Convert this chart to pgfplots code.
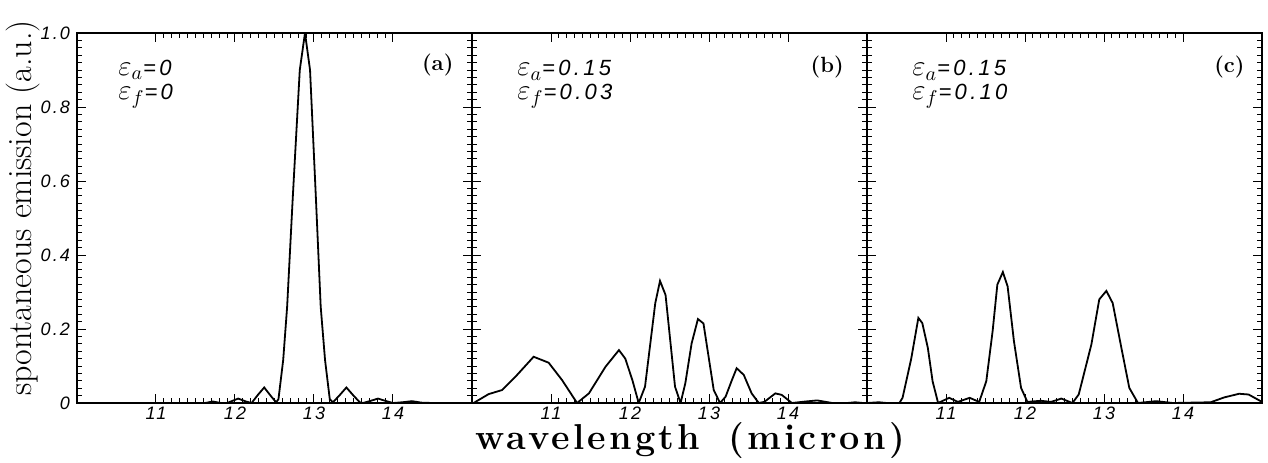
\documentclass[border=0pt]{standalone}
\usepackage{fontspec}
\usepackage{pgfplots}
\pgfplotsset{compat=1.18}
\newfontfamily\idlfont[LetterSpace=12]{Liberation Sans}
\newfontfamily\idlfontw[LetterSpace=15]{Liberation Sans}
\newfontfamily\xlabfont[LetterSpace=9]{Latin Modern Roman}
\newcommand\tickfont{\idlfont\itshape\fontsize{9}{10}\selectfont}
\newcommand\eps[2]{{\fontsize{14}{14}\selectfont\smash{$\varepsilon_{#1}$}}{\idlfontw\itshape\fontsize{11}{13}\selectfont=#2}}
\newcommand\plab[1]{{\bfseries\fontsize{11}{13}\selectfont(#1)}}

\pgfplotsset{panel/.style={
  scale only axis, width=197.5pt, height=185pt,
  xmin=10, xmax=15, ymin=0, ymax=1,
  xtick={11,12,13,14}, ytick={0,0.2,0.4,0.6,0.8,1.0},
  minor x tick num=9, minor y tick num=9,
  major tick length=4.5pt, minor tick length=2.5pt,
  tick style={black, line width=0.5pt},
  axis line style={line width=0.8pt},
  ticklabel style={font=\tickfont},
  xticklabel style={inner sep=0pt, yshift=-2pt},
  /pgf/number format/assume math mode=true,
  anchor=south west,
}}

\begin{document}
\begin{tikzpicture}
% ---------------- (a)
\begin{axis}[panel, at={(0pt,0pt)},
  yticklabels={0,0.2,0.4,0.6,0.8,1.0},
  ylabel={\fontsize{17}{20}\selectfont spontaneous emission (a.u.)},
  ylabel style={at={(axis description cs:-0.115,0.527)}, anchor=base},
]
\addplot[black, line width=0.9pt] coordinates {
(10.0,0) (11.5,0) (11.62,0) (11.72,0.004) (11.82,0) (11.9,0) (12.04,0.012) (12.14,0.004)
(12.21,0) (12.29,0.022) (12.37,0.042) (12.45,0.02) (12.52,0.002) (12.55,0.01) (12.61,0.116)
(12.66,0.26) (12.73,0.55) (12.82,0.9) (12.886,1.0) (12.95,0.9) (13.025,0.55) (13.085,0.26)
(13.14,0.116) (13.20,0.01) (13.24,0.002) (13.32,0.02) (13.41,0.042) (13.5,0.02) (13.58,0.002)
(13.62,0) (13.72,0.006) (13.81,0.012) (13.9,0.006) (14.0,0) (14.12,0.002) (14.24,0.005)
(14.36,0.001) (14.5,0) (15,0)
};
\node[anchor=base west, inner sep=0pt] at (axis description cs:0.104,0.886) {\eps{a}{0}};
\node[anchor=base west, inner sep=0pt] at (axis description cs:0.104,0.819) {\eps{f}{0}};
\node[anchor=base east, inner sep=0pt] at (axis description cs:0.954,0.9) {\plab{a}};
\end{axis}
% ---------------- (b)
\begin{axis}[panel, at={(197.5pt,0pt)}, yticklabels={},
  xlabel={\xlabfont\bfseries\fontsize{18}{21}\selectfont wavelength\hspace{14pt}(micron)},
  xlabel style={at={(axis description cs:0.552,-0.127)}, anchor=base, inner sep=0pt},
]
\addplot[black, line width=0.9pt] coordinates {
(10.02,0) (10.21,0.024) (10.38,0.035) (10.55,0.071) (10.78,0.125) (10.97,0.109) (11.14,0.062)
(11.33,0) (11.48,0.026) (11.69,0.098) (11.86,0.143) (11.94,0.12) (12.03,0.062) (12.11,0)
(12.19,0.044) (12.32,0.27) (12.38,0.33) (12.45,0.292) (12.57,0.044) (12.64,0) (12.70,0.053)
(12.78,0.161) (12.86,0.227) (12.93,0.215) (13.06,0.035) (13.14,0) (13.21,0.017) (13.29,0.062)
(13.35,0.094) (13.44,0.076) (13.54,0.026) (13.63,0) (13.70,0.003) (13.84,0.026) (13.92,0.022)
(14.05,0) (14.22,0.004) (14.37,0.007) (14.56,0) (14.75,0) (14.85,0.002) (14.95,0) (15,0)
};
\node[anchor=base west, inner sep=0pt] at (axis description cs:0.114,0.884) {\eps{a}{0.15}};
\node[anchor=base west, inner sep=0pt] at (axis description cs:0.114,0.819) {\eps{f}{0.03}};
\node[anchor=base east, inner sep=0pt] at (axis description cs:0.942,0.893) {\plab{b}};
\end{axis}
% ---------------- (c)
\begin{axis}[panel, at={(395pt,0pt)}, yticklabels={}]
\addplot[black, line width=0.9pt] coordinates {
(10.0,0) (10.15,0.002) (10.25,0) (10.41,0) (10.45,0.014) (10.56,0.12) (10.65,0.23) (10.70,0.216)
(10.77,0.149) (10.83,0.059) (10.90,0) (11.04,0.014) (11.15,0.003) (11.30,0.014) (11.42,0.003)
(11.51,0.059) (11.59,0.194) (11.65,0.32) (11.72,0.354) (11.78,0.315) (11.86,0.167) (11.95,0.041)
(12.03,0.003) (12.20,0.006) (12.33,0.003) (12.46,0.012) (12.60,0) (12.68,0.023) (12.84,0.158)
(12.94,0.28) (13.03,0.303) (13.11,0.27) (13.22,0.149) (13.32,0.041) (13.43,0) (13.66,0.005)
(13.87,0) (14.35,0.002) (14.52,0.015) (14.71,0.025) (14.83,0.023) (15.0,0.003)
};
\node[anchor=base west, inner sep=0pt] at (axis description cs:0.114,0.884) {\eps{a}{0.15}};
\node[anchor=base west, inner sep=0pt] at (axis description cs:0.114,0.819) {\eps{f}{0.10}};
\node[anchor=base east, inner sep=0pt] at (axis description cs:0.957,0.892) {\plab{c}};
\end{axis}
\pgfresetboundingbox
\path[use as bounding box] (-38.5pt,-29.5pt) rectangle (595.5pt,201.5pt);
\end{tikzpicture}
\end{document}
